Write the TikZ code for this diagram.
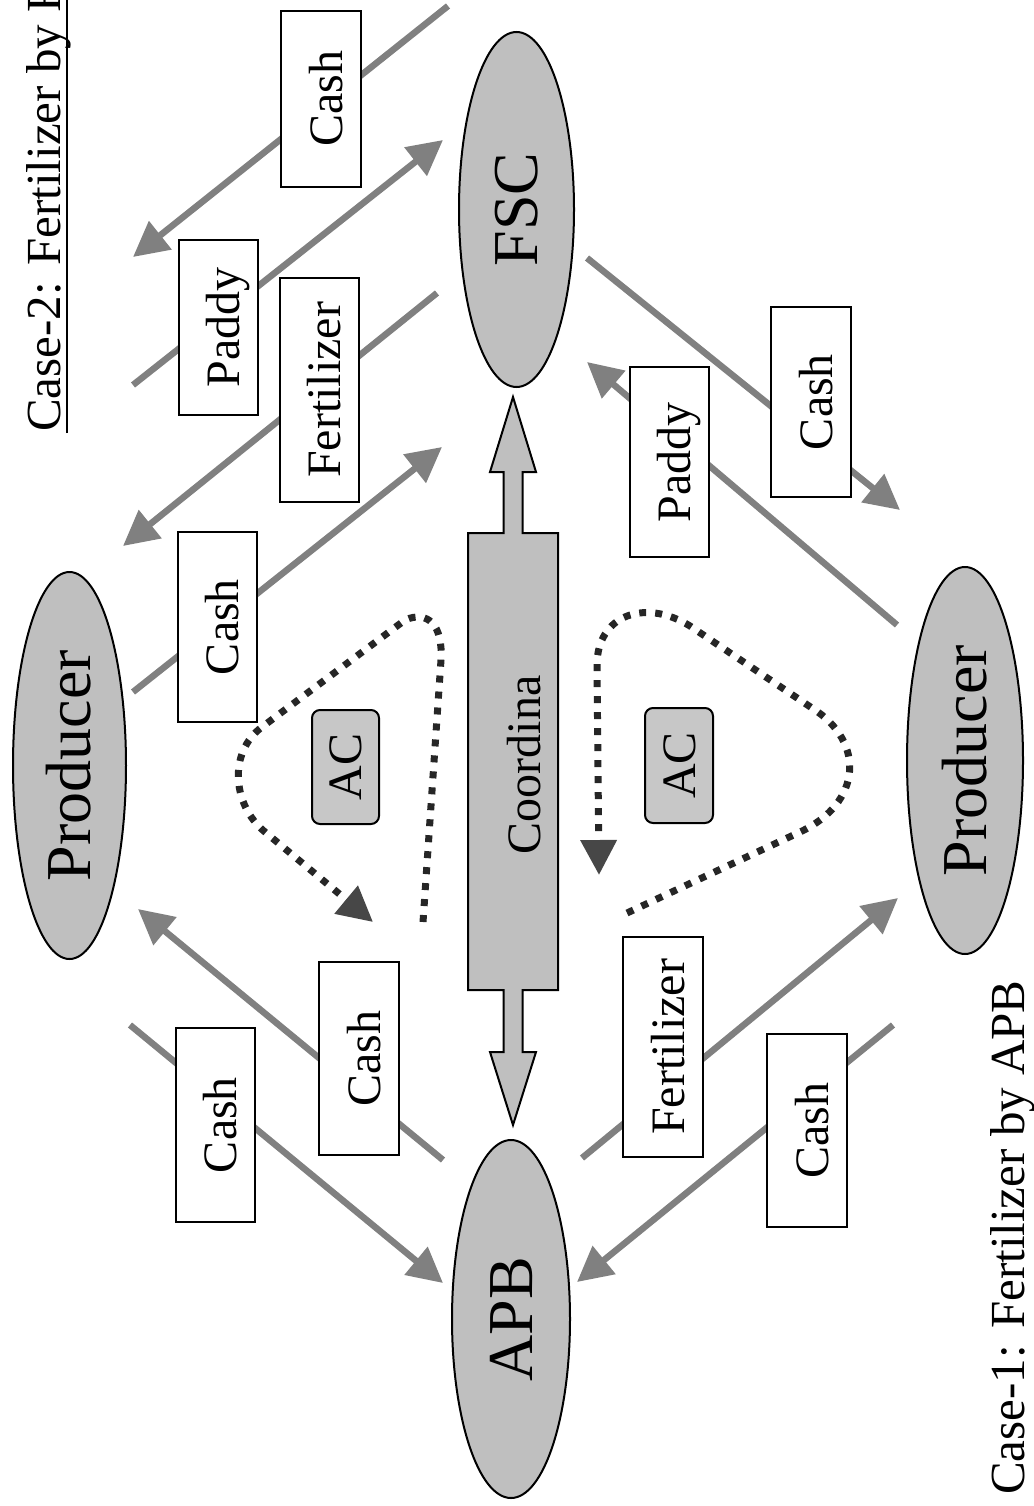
\documentclass[tikz,border=0pt]{standalone}
\usepackage{fontspec}
\setmainfont{Liberation Serif}
\usetikzlibrary{arrows.meta,shapes.geometric}
\begin{document}
\begin{tikzpicture}[x=1pt,y=-1pt,
  flow/.style={draw=black!50, line width=6.5pt, line cap=butt,
    -{Triangle[length=35pt,width=35pt]}},
  lbl/.style={draw=black, line width=2pt, fill=white, rotate=90,
    font=\fontsize{48}{50}\selectfont, text height=42pt, text depth=0pt,
    inner sep=0pt},
  acbox/.style={draw=black, line width=2pt, fill=black!22, rotate=90,
    rounded corners=8pt, font=\fontsize{48}{50}\selectfont,
    text height=32pt, text depth=0pt, inner sep=0pt},
  actor/.style={ellipse, draw=black, line width=2pt, fill=black!25, rotate=90,
    font=\fontsize{64}{66}\selectfont, text height=42pt, text depth=0pt,
    inner sep=0pt},
  acloop/.style={draw=black!85, line width=7pt, dash pattern=on 7pt off 9pt,
    -{Triangle[length=35pt,width=35pt,color=black!72]}},
  bigarrow/.style={draw=black, line width=2pt, fill=black!25},
  titletext/.style={rotate=90, inner sep=0pt, font=\fontsize{49}{51}\selectfont}
]
\useasboundingbox (0,0) rectangle (1033,1506);

% arrow end points
\coordinate (a1s) at (448,6);    \coordinate (a1e) at (133,257);
\coordinate (a2s) at (133,385);  \coordinate (a2e) at (443,140);
\coordinate (a3s) at (437,293);  \coordinate (a3e) at (123,546);
\coordinate (a4s) at (133,692);  \coordinate (a4e) at (442,447);
\coordinate (a5s) at (587,258);  \coordinate (a5e) at (900,510);
\coordinate (a6s) at (897,625);  \coordinate (a6e) at (587,362);
\coordinate (a7s) at (130,1025); \coordinate (a7e) at (443,1283);
\coordinate (a8s) at (443,1160); \coordinate (a8e) at (138,909);
\coordinate (a9s) at (582,1158); \coordinate (a9e) at (898,898);
\coordinate (a10s) at (893,1025); \coordinate (a10e) at (577,1282);

\draw[flow] (a1s) -- (a1e);
\draw[flow] (a2s) -- (a2e);
\draw[flow] (a3s) -- (a3e);
\draw[flow] (a4s) -- (a4e);
\draw[flow] (a5s) -- (a5e);
\draw[flow] (a6s) -- (a6e);
\draw[flow] (a7s) -- (a7e);
\draw[flow] (a8s) -- (a8e);
\draw[flow] (a9s) -- (a9e);
\draw[flow] (a10s) -- (a10e);

% label boxes
\node[lbl, minimum width=176pt, minimum height=80pt] (b1) at (321,99) {Cash};
\node[lbl, minimum width=175pt, minimum height=79pt] (b2) at (218.5,327.5) {Paddy};
\node[lbl, minimum width=224pt, minimum height=79pt] (b3) at (319.5,390) {Fertilizer};
\node[lbl, minimum width=190pt, minimum height=79pt] (b4) at (217.5,627) {Cash};
\node[lbl, minimum width=190pt, minimum height=79pt] (b5) at (669.5,462) {Paddy};
\node[lbl, minimum width=190pt, minimum height=80pt] (b6) at (811,402) {Cash};
\node[lbl, minimum width=194pt, minimum height=79pt] (b7) at (215.5,1125) {Cash};
\node[lbl, minimum width=193pt, minimum height=80pt] (b8) at (359,1058.5) {Cash};
\node[lbl, minimum width=220pt, minimum height=80pt] (b9) at (663,1047) {Fertilizer};
\node[lbl, minimum width=193pt, minimum height=80pt] (b10) at (807,1130.5) {Cash};

% actors
\node[actor, minimum width=387pt, minimum height=113pt] (prodA) at (69.5,765.5) {Producer};
\node[actor, minimum width=355pt, minimum height=115pt] (fsc) at (516.5,209.5) {FSC};
\node[actor, minimum width=358pt, minimum height=118pt] (apb) at (511,1319) {APB};
\node[actor, minimum width=387pt, minimum height=116pt] (prodB) at (965,760.5) {Producer};

% coordination double arrow
\draw[bigarrow] (468,533) -- (503.5,533) -- (503.5,472) -- (490,472) -- (513,397)
  -- (536,472) -- (522.5,472) -- (522.5,533) -- (558,533) -- (558,990)
  -- (522.5,990) -- (522.5,1052) -- (536,1052) -- (513,1125) -- (490,1052)
  -- (503.5,1052) -- (503.5,990) -- (468,990) -- cycle;
\node[rotate=90, anchor=base, inner sep=0pt, font=\fontsize{48}{50}\selectfont]
  (coord) at (540,765) {Coordina};

% AC boxes and loops
\node[acbox, minimum width=114pt, minimum height=67pt] (ac1) at (345.5,767) {AC};
\node[acbox, minimum width=115pt, minimum height=68pt] (ac2) at (679,765.5) {AC};

\draw[acloop] (423,922) -- (441,660) .. controls (443,625) and (428,610) .. (405,620)
  -- (262,727) .. controls (228,752) and (232,805) .. (265,832) -- (373,922);
\draw[acloop] (627,913) -- (800,832) .. controls (862,803) and (866,742) .. (812,708)
  -- (690,626) .. controls (645,598) and (597,615) .. (597,665) -- (599,875);

% titles
\node[titletext, anchor=base west] (t2) at (60,432) {Case-2: Fertilizer by F};
\draw[line width=2.5pt] (67,433) -- (67,-3);
\node[titletext, anchor=base west] (t1) at (1024,1495) {Case-1: Fertilizer by APB};
\end{tikzpicture}
\end{document}
